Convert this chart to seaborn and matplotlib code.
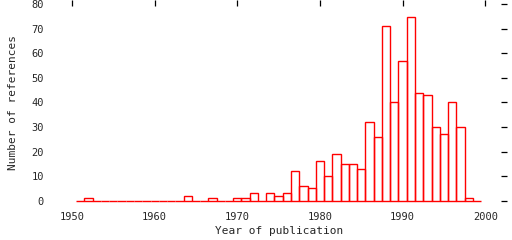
import matplotlib
matplotlib.use("Agg")
import matplotlib.pyplot as plt
import seaborn as sns
import pandas as pd

years = list(range(1951, 2000))
counts = [0, 1, 0, 0, 0, 0, 0, 0, 0, 0,      # 1951-1960
          0, 0, 0, 2, 0, 0, 1, 0, 0, 1,      # 1961-1970
          1, 3, 0, 3, 2, 3, 12, 6, 5, 16,    # 1971-1980
          10, 19, 15, 15, 13, 32, 26, 71, 40, 57,  # 1981-1990
          75, 44, 43, 30, 27, 40, 30, 1, 0]  # 1991-1999
xticks = [1950, 1960, 1970, 1980, 1990, 2000]
yticks = [0, 10, 20, 30, 40, 50, 60, 70, 80]

sns.set_style("white")
plt.rcParams['font.family'] = ['DejaVu Sans Mono', 'DejaVu Sans']

df = pd.DataFrame({"year": years, "n": counts})

fig = plt.figure(figsize=(5.12, 2.4), dpi=100)
ax = fig.add_axes([51/512, 1 - 206/240, (507 - 51)/512, 206/240])

sns.histplot(data=df, x="year", weights="n", discrete=True, element="bars",
             fill=False, color="#ff0000", edgecolor="#ff0000", linewidth=1.0, ax=ax)

ax.set_xlim(1947.46, 2002.63)
ax.set_ylim(-2.16, 81.75)
ax.set_xticks(xticks)
ax.set_yticks(yticks)
for s in ax.spines.values():
    s.set_visible(False)
ax.tick_params(axis="both", which="both", direction="in", length=4.5, width=0.9,
               color="black", top=True, right=True, labelsize=7.5)
ax.tick_params(axis="x", pad=4)
ax.tick_params(axis="y", pad=5)
ax.set_xlabel("Year of publication", fontsize=8, labelpad=3)
ax.set_ylabel("Number of references", fontsize=8, labelpad=10)

fig.savefig("out.png", dpi=100)
